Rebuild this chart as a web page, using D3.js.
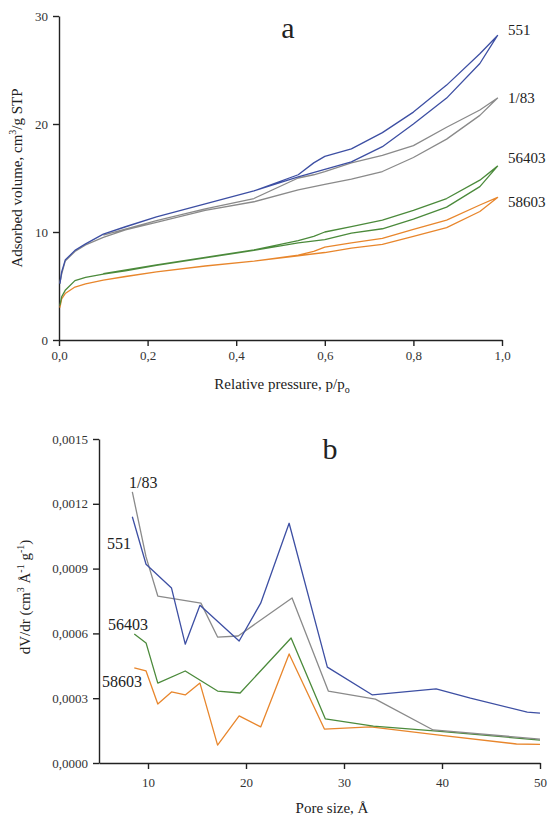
<!DOCTYPE html>
<html>
<head>
<meta charset="utf-8">
<script src="https://d3js.org/d3.v7.min.js"></script>
<style>
  body { margin: 0; background: #fff; }
  .axis path, .axis line { stroke: #222; stroke-width: 1.4; }
</style>
</head>
<body>
<svg id="drawing_region"></svg>
<script>
// ---- (a) isotherms ----
const samples = ['551', '1/83', '56403', '58603'];
const colors = ['#3d4fa3', '#8a8a8a', '#4b8a3b', '#e8862c'];

const pAds = [0.002, 0.006, 0.014, 0.036, 0.06, 0.1, 0.15, 0.22, 0.33, 0.44, 0.54, 0.6, 0.66, 0.73, 0.8, 0.875, 0.95, 0.99];
const ads551   = [5.2, 6.3, 7.4, 8.3, 8.9, 9.8, 10.5, 11.4, 12.6, 13.8, 15.1, 15.8, 16.5, 17.9, 20.0, 22.4, 25.6, 28.2];
const ads183   = [5.3, 6.1, 7.3, 8.2, 8.8, 9.5, 10.2, 10.9, 12.0, 12.8, 13.9, 14.4, 14.9, 15.6, 16.9, 18.6, 20.8, 22.4];
const ads56403 = [3.2, 4.0, 4.6, 5.5, 5.8, 6.1, 6.4, 6.9, 7.6, 8.3, 9.0, 9.3, 9.9, 10.3, 11.2, 12.3, 14.2, 16.1];
const ads58603 = [3.0, 3.8, 4.3, 4.9, 5.2, 5.55, 5.9, 6.3, 6.85, 7.3, 7.8, 8.1, 8.5, 8.85, 9.6, 10.4, 11.9, 13.2];

const pDes = [0.99, 0.95, 0.875, 0.8, 0.73, 0.66, 0.6, 0.575, 0.54, 0.44, 0.33, 0.22, 0.1];
const des551   = [28.2, 26.5, 23.6, 21.1, 19.2, 17.7, 17.0, 16.4, 15.3, 13.8, 12.6, 11.4, 9.8];
const des183   = [22.4, 21.3, 19.7, 18.0, 17.1, 16.4, 15.6, 15.3, 15.0, 13.1, 12.15, 11.05, 9.7];
const des56403 = [16.1, 14.8, 13.1, 12.0, 11.1, 10.5, 10.0, 9.6, 9.2, 8.35, 7.65, 6.95, 6.15];
const des58603 = [13.2, 12.5, 11.1, 10.25, 9.4, 9.0, 8.6, 8.2, 7.85, 7.3, 6.85, 6.3, 5.55];

const isoXTicks = [0, 0.2, 0.4, 0.6, 0.8, 1.0];
const isoYTicks = [0, 10, 20, 30];

// ---- (b) pore size distribution ----
const pore551x = [8.4, 9.8, 12.4, 13.8, 15.3, 19.3, 21.5, 24.4, 28.3, 32.9, 39.4, 42.9, 48.7, 50];
const pore551y = [0.00114, 0.00092, 0.00081, 0.00055, 0.00073, 0.000565, 0.00074, 0.00111, 0.000444, 0.000315, 0.000343, 0.0003, 0.000236, 0.000231];
const pore183x = [8.4, 9.8, 11.0, 15.4, 17.1, 19.2, 24.7, 28.4, 33.2, 39.1, 50];
const pore183y = [0.001255, 0.000954, 0.000773, 0.00074, 0.000583, 0.000588, 0.000764, 0.000333, 0.000296, 0.000153, 0.000111];
const pore56403x = [8.6, 9.8, 11.0, 13.8, 17.1, 19.4, 24.6, 28.1, 33.0, 39.5, 50];
const pore56403y = [0.000597, 0.000556, 0.00037, 0.000426, 0.000333, 0.000324, 0.000579, 0.000204, 0.000171, 0.000148, 0.000106];
const pore58603x = [8.6, 9.8, 11.0, 12.4, 13.8, 15.3, 17.1, 19.3, 21.5, 24.4, 28.0, 32.7, 39.5, 47.6, 50];
const pore58603y = [0.00044, 0.000426, 0.000273, 0.000329, 0.000315, 0.00037, 0.000083, 0.000218, 0.000167, 0.000505, 0.000157, 0.000167, 0.00013, 0.000088, 0.000086];

const poreXTicks = [10, 20, 30, 40, 50];
const poreYTicks = [0, 0.0003, 0.0006, 0.0009, 0.0012, 0.0015];

const serif = '"Liberation Serif", "Times New Roman", serif';
const locale = d3.formatLocale({decimal: ',', thousands: ' ', grouping: [3], currency: ['', '']});

const svg = d3.select('#drawing_region')
    .attr('width', 549)
    .attr('height', 818);

// helper for plain text
function addText(x, y, size, str, anchor) {
    return svg.append('text')
        .attr('x', x).attr('y', y)
        .attr('text-anchor', anchor || 'start')
        .attr('font-family', serif)
        .attr('font-size', size)
        .attr('fill', '#222')
        .text(str);
}

function styleAxis(g) {
    g.attr('font-family', serif).attr('font-size', 13);
    g.selectAll('text').attr('fill', '#333');
}

// ================= chart a =================
const xA = d3.scaleLinear().domain([0, 1]).range([59, 502]);
const yA = d3.scaleLinear().domain([0, 30]).range([340, 16]);

svg.append('g')
    .attr('class', 'axis')
    .attr('transform', `translate(0, ${yA(0)})`)
    .call(d3.axisBottom(xA).tickValues(isoXTicks).tickSize(6).tickSizeOuter(0).tickPadding(5)
        .tickFormat(locale.format('.1f')))
    .call(styleAxis);

svg.append('g')
    .attr('class', 'axis')
    .attr('transform', `translate(${xA(0)}, 0)`)
    .call(d3.axisLeft(yA).tickValues(isoYTicks).tickSize(6).tickSizeOuter(0).tickPadding(5))
    .call(styleAxis);

const adsSets = [ads551, ads183, ads56403, ads58603];
const desSets = [des551, des183, des56403, des58603];
const lineA = d3.line().x(d => xA(d[0])).y(d => yA(d[1]));

// draw from bottom to top so blue ends up on top
[3, 2, 1, 0].forEach(i => {
    const pts = pAds.map((p, j) => [p, adsSets[i][j]])
        .concat(pDes.map((p, j) => [p, desSets[i][j]]));
    svg.append('path')
        .attr('d', lineA(pts))
        .attr('fill', 'none')
        .attr('stroke', colors[i])
        .attr('stroke-width', 1.3)
        .attr('stroke-linejoin', 'round');
});

// sample labels
const labelYA = [35, 103, 163, 207];
samples.forEach((s, i) => addText(508, labelYA[i], 15, s));

addText(288, 38, 30, 'a', 'middle');

// x label
const xlabA = addText(282, 389, 15, '', 'middle');
xlabA.append('tspan').text('Relative pressure, p/p');
xlabA.append('tspan').attr('dy', 4).attr('font-size', 10).text('o');

// y label
const ylabA = addText(0, 0, 15, '', 'middle')
    .attr('transform', `translate(22, 178) rotate(-90)`);
ylabA.append('tspan').text('Adsorbed volume, cm');
ylabA.append('tspan').attr('dy', -6).attr('font-size', 10).text('3');
ylabA.append('tspan').attr('dy', 6).text('/g STP');

// ================= chart b =================
const xB = d3.scaleLinear().domain([5, 50]).range([99, 540]);
const yB = d3.scaleLinear().domain([0, 0.0015]).range([763, 439]);

svg.append('g')
    .attr('class', 'axis')
    .attr('transform', `translate(0, ${yB(0)})`)
    .call(d3.axisBottom(xB).tickValues(poreXTicks).tickSize(6).tickSizeOuter(0).tickPadding(9))
    .call(styleAxis);

svg.append('g')
    .attr('class', 'axis')
    .attr('transform', `translate(${xB(5)}, 0)`)
    .call(d3.axisLeft(yB).tickValues(poreYTicks).tickSize(6).tickSizeOuter(0).tickPadding(5)
        .tickFormat(locale.format('.4f')))
    .call(styleAxis);

const poreX = [pore551x, pore183x, pore56403x, pore58603x];
const poreY = [pore551y, pore183y, pore56403y, pore58603y];
const lineB = d3.line().x(d => xB(d[0])).y(d => yB(d[1]));

[3, 2, 1, 0].forEach(i => {
    const pts = poreX[i].map((x, j) => [x, poreY[i][j]]);
    svg.append('path')
        .attr('d', lineB(pts))
        .attr('fill', 'none')
        .attr('stroke', colors[i])
        .attr('stroke-width', 1.3)
        .attr('stroke-linejoin', 'round');
});

const labelPosB = [[107, 549], [129, 488], [108, 630], [102, 687]];
samples.forEach((s, i) => addText(labelPosB[i][0], labelPosB[i][1], 16, s));

addText(330, 459, 30, 'b', 'middle');
addText(332, 813, 15, 'Pore size, Å', 'middle');

const ylabB = addText(0, 0, 15, '', 'middle')
    .attr('transform', `translate(30, 597) rotate(-90)`);
ylabB.append('tspan').text('dV/dr (cm');
ylabB.append('tspan').attr('dy', -6).attr('font-size', 10).text('3');
ylabB.append('tspan').attr('dy', 6).text(' Å');
ylabB.append('tspan').attr('dy', -6).attr('font-size', 10).text('-1');
ylabB.append('tspan').attr('dy', 6).text(' g');
ylabB.append('tspan').attr('dy', -6).attr('font-size', 10).text('-1');
ylabB.append('tspan').attr('dy', 6).text(')');
</script>
</body>
</html>
